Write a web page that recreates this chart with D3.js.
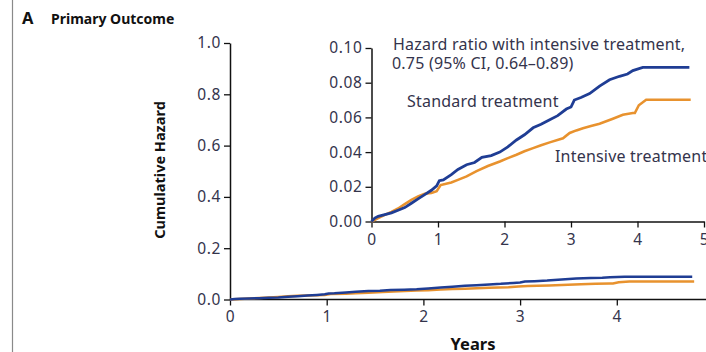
<!DOCTYPE html>
<html>
<head>
<meta charset="utf-8">
<script src="https://cdn.jsdelivr.net/npm/d3@7"></script>
<style>
  html, body { margin: 0; padding: 0; background: #fff; overflow: hidden; }
  svg { display: block; font-family: "Noto Sans", "Open Sans", sans-serif; }
</style>
</head>
<body>
<div id="chart"></div>
<script>
// years and cumulative hazard
var stdYears   = [0, 0.05, 0.1, 0.2, 0.3, 0.4, 0.5, 0.6, 0.7, 0.8, 0.9, 0.98, 1.02, 1.08, 1.2, 1.3, 1.43, 1.55, 1.66, 1.8, 1.93, 2.05, 2.18, 2.3, 2.43, 2.55, 2.68, 2.8, 2.93, 3.0, 3.05, 3.15, 3.28, 3.43, 3.58, 3.73, 3.85, 3.93, 4.08, 4.78];
var stdHazard  = [0, 0.002, 0.003, 0.004, 0.005, 0.0065, 0.008, 0.0105, 0.013, 0.0155, 0.018, 0.0205, 0.0235, 0.024, 0.027, 0.030, 0.0327, 0.034, 0.037, 0.038, 0.040, 0.043, 0.047, 0.050, 0.054, 0.056, 0.0587, 0.061, 0.0648, 0.066, 0.070, 0.0715, 0.0737, 0.078, 0.0817, 0.0837, 0.085, 0.087, 0.0888, 0.0888];

var intYears   = [0, 0.05, 0.1, 0.2, 0.3, 0.4, 0.5, 0.6, 0.7, 0.8, 0.9, 0.98, 1.04, 1.2, 1.3, 1.43, 1.58, 1.75, 1.93, 2.05, 2.18, 2.3, 2.43, 2.55, 2.68, 2.88, 2.98, 3.08, 3.18, 3.3, 3.43, 3.63, 3.78, 3.93, 3.96, 4.02, 4.13, 4.8];
var intHazard  = [0, 0.001, 0.002, 0.0038, 0.0055, 0.0075, 0.010, 0.0125, 0.0145, 0.016, 0.0165, 0.0175, 0.021, 0.0225, 0.024, 0.026, 0.029, 0.032, 0.0346, 0.0365, 0.0385, 0.0405, 0.0423, 0.044, 0.0456, 0.048, 0.051, 0.0525, 0.0538, 0.055, 0.0563, 0.0592, 0.0615, 0.0625, 0.0625, 0.067, 0.0702, 0.0702];

var mainYTicks  = [0, 0.2, 0.4, 0.6, 0.8, 1.0];
var mainXTicks  = [0, 1, 2, 3, 4];
var insetYTicks = [0, 0.02, 0.04, 0.06, 0.08, 0.10];
var insetXTicks = [0, 1, 2, 3, 4, 5];

var blue = "#1f3d94", orange = "#e8922e", ink = "#34344c";

var width = 706, height = 352;

var svg = d3.select("#chart").append("svg")
    .attr("width", width)
    .attr("height", height);

// panel frame line on the left
svg.append("line")
    .attr("x1", 12.5).attr("x2", 12.5)
    .attr("y1", 0).attr("y2", height)
    .attr("stroke", "#8a8a8a").attr("stroke-width", 1.2);

svg.append("text")
    .attr("x", 22).attr("y", 24)
    .attr("font-size", 16.5).attr("font-weight", "bold")
    .attr("fill", "#111")
    .text("A");
svg.append("text")
    .attr("x", 51).attr("y", 24)
    .attr("font-size", 14).attr("font-weight", "bold")
    .attr("fill", "#111")
    .text("Primary Outcome");

function series(xs, ys) {
    return xs.map(function(x, i) { return [x, ys[i]]; });
}
var stdData = series(stdYears, stdHazard);
var intData = series(intYears, intHazard);

function styleAxis(g, fs) {
    g.select(".domain").attr("stroke", "#111").attr("stroke-width", 1.5);
    g.selectAll(".tick line").attr("stroke", "#111").attr("stroke-width", 1.3);
    g.selectAll(".tick text")
        .attr("fill", ink)
        .attr("font-size", fs)
        .attr("letter-spacing", 0.6)
        .attr("font-family", "\"Noto Sans\", sans-serif");
}

// ---- main plot ----
var mx = d3.scaleLinear().domain([0, 1]).range([230, 326.7]);
var my = d3.scaleLinear().domain([0, 1]).range([299.5, 43]);

var mainX = svg.append("g")
    .attr("transform", "translate(0," + my(0) + ")")
    .call(d3.axisBottom(mx).tickValues(mainXTicks).tickFormat(d3.format("d"))
        .tickSize(6).tickPadding(5).tickSizeOuter(0));
mainX.select(".domain").attr("d", "M" + mx(0) + ",0H" + width);
styleAxis(mainX, 15.5);

var mainY = svg.append("g")
    .attr("transform", "translate(" + mx(0) + ",0)")
    .call(d3.axisLeft(my).tickValues(mainYTicks).tickFormat(d3.format(".1f"))
        .tickSize(6).tickPadding(3).tickSizeOuter(0));
styleAxis(mainY, 15.5);

svg.append("text")
    .attr("transform", "translate(165," + 170 + ") rotate(-90)")
    .attr("text-anchor", "middle")
    .attr("font-size", 14.5).attr("font-weight", "bold")
    .attr("fill", "#111")
    .text("Cumulative Hazard");

svg.append("text")
    .attr("x", 473).attr("y", 350)
    .attr("text-anchor", "middle")
    .attr("font-size", 16.5).attr("font-weight", "bold")
    .attr("fill", "#111")
    .text("Years");

var mainLine = d3.line()
    .x(function(d) { return mx(d[0]); })
    .y(function(d) { return my(d[1]); });

svg.append("path").datum(intData)
    .attr("d", mainLine).attr("fill", "none")
    .attr("stroke", orange).attr("stroke-width", 2.5);
svg.append("path").datum(stdData)
    .attr("d", mainLine).attr("fill", "none")
    .attr("stroke", blue).attr("stroke-width", 2.5);

// ---- inset ----
var ix = d3.scaleLinear().domain([0, 5]).range([371.5, 704]);
var iy = d3.scaleLinear().domain([0, 0.10]).range([221.5, 48]);

var insetX = svg.append("g")
    .attr("transform", "translate(0," + iy(0) + ")")
    .call(d3.axisBottom(ix).tickValues(insetXTicks).tickFormat(d3.format("d"))
        .tickSize(6).tickPadding(6).tickSizeOuter(0));
styleAxis(insetX, 15.5);

var insetY = svg.append("g")
    .attr("transform", "translate(" + ix(0) + ",0)")
    .call(d3.axisLeft(iy).tickValues(insetYTicks).tickFormat(d3.format(".2f"))
        .tickSize(6).tickPadding(3).tickSizeOuter(0));
styleAxis(insetY, 15.5);

var insetLine = d3.line()
    .x(function(d) { return ix(d[0]); })
    .y(function(d) { return iy(d[1]); });

svg.append("path").datum(intData)
    .attr("d", insetLine).attr("fill", "none")
    .attr("stroke", orange).attr("stroke-width", 2.6);
svg.append("path").datum(stdData)
    .attr("d", insetLine).attr("fill", "none")
    .attr("stroke", blue).attr("stroke-width", 2.8);

var note = svg.append("g").attr("font-size", 16).attr("letter-spacing", 0.2).attr("fill", ink);
note.append("text").attr("x", 393).attr("y", 50).text("Hazard ratio with intensive treatment,");
note.append("text").attr("x", 392).attr("y", 69).text("0.75 (95% CI, 0.64\u20130.89)");
note.append("text").attr("x", 407).attr("y", 107).text("Standard treatment");
note.append("text").attr("x", 555).attr("y", 162).text("Intensive treatment");
</script>
</body>
</html>
